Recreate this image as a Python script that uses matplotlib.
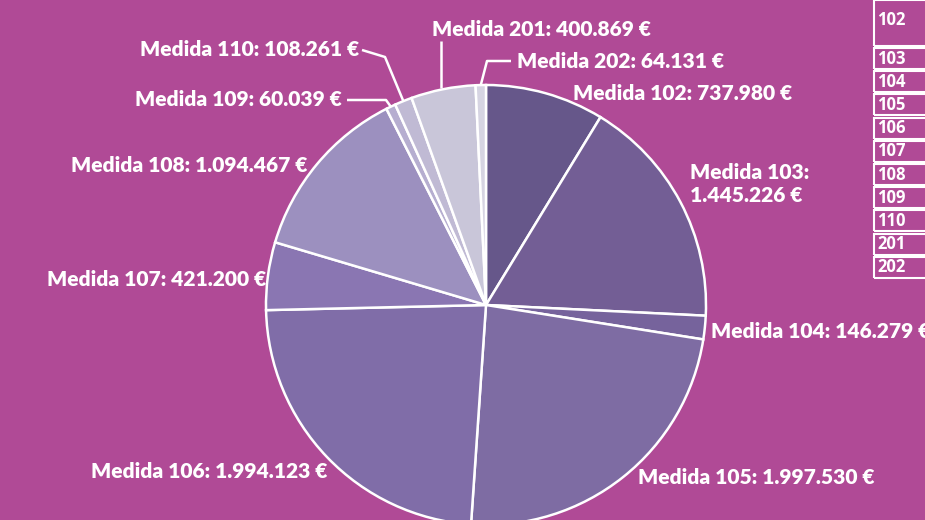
import numpy as np
import matplotlib
matplotlib.use("Agg")
import matplotlib.pyplot as plt
from matplotlib.patches import Rectangle

# ---- data ----
codes = ["102", "103", "104", "105", "106", "107", "108", "109", "110", "201", "202"]
values = [737980, 1445226, 146279, 1997530, 1994123, 421200, 1094467, 60039, 108261, 400869, 64131]
value_labels = ["737.980 €", "1.445.226 €", "146.279 €", "1.997.530 €", "1.994.123 €",
                "421.200 €", "1.094.467 €", "60.039 €", "108.261 €", "400.869 €", "64.131 €"]
colors = ["#66578A", "#735E95", "#76639C", "#7E6CA3", "#806DA8", "#8A76B2",
          "#9C90BF", "#B6AED0", "#C0BAD4", "#C9C6D9", "#D6D4E2"]

BG = "#B04A96"
W, H = 925, 520
fig = plt.figure(figsize=(W / 100, H / 100), dpi=100, facecolor=BG)
ax = fig.add_axes([0, 0, 1, 1])
ax.set_facecolor(BG)

cx, cy, R = 486, 305, 220
wedges, _ = ax.pie(values, colors=colors, startangle=90, counterclock=False,
                   center=(cx, H - cy), radius=R,
                   wedgeprops=dict(edgecolor="white", linewidth=1.8))
ax.set_xlim(0, W)
ax.set_ylim(0, H)
ax.set_aspect("equal", adjustable="box")
ax.axis("off")

font = dict(family=["Lato", "DejaVu Sans"], fontweight="heavy", color="white", fontsize=15.1)

def Y(y):
    return H - y

# label positions (pixel coords, left x / center y)
pos = {
    "102": (573, 93),
    "103": (690, 184),
    "104": (711, 331),
    "105": (638, 478),
    "106": (91, 472),
    "107": (47, 279),
    "108": (71, 166),
    "109": (135, 99),
    "110": (140, 49),
    "201": (432, 29),
    "202": (517, 61),
}
for code, vl in zip(codes, value_labels):
    x, y = pos[code]
    if code == "103":
        txt = f"Medida {code}:\n{vl}"
        ax.text(x, Y(y), txt, ha="left", va="center", linespacing=1.25, **font)
    else:
        ax.text(x, Y(y), f"Medida {code}: {vl}", ha="left", va="center", **font)

# leader lines for small slices
def mid_point(i, r):
    w = wedges[i]
    a = np.deg2rad((w.theta1 + w.theta2) / 2)
    return cx + r * np.cos(a), H - cy + r * np.sin(a)

lk = dict(color="white", lw=1.8, solid_capstyle="butt")
# 110
x0, y0 = mid_point(codes.index("110"), R)
ax.plot([x0, 385, 362], [y0, Y(57), Y(50)], **lk)
# 109
x0, y0 = mid_point(codes.index("109"), R)
ax.plot([x0, 386, 347], [y0, Y(100), Y(100)], **lk)
# 201
ax.plot([441, 441], [Y(88), Y(41)], **lk)
# 202
x0, y0 = mid_point(codes.index("202"), R)
ax.plot([x0, 487, 511], [y0, Y(61), Y(61)], **lk)

# legend table (partially clipped at the right)
rows = [(0, 46)] + [(48 + 23.2 * i, 48 + 23.2 * i + 21) for i in range(10)]
for code, (t, b) in zip(codes, rows):
    ax.add_patch(Rectangle((874, Y(b)), 80, b - t, facecolor="none",
                           edgecolor="white", lw=1.5, clip_on=True))
    ty = (t + b) / 2 if code != "102" else 20
    ax.text(877, Y(ty), code, ha="left", va="center", color="white",
            fontsize=12, fontweight="bold", family=["Open Sans", "DejaVu Sans"])

fig.savefig("out.png", dpi=100, facecolor=BG)
